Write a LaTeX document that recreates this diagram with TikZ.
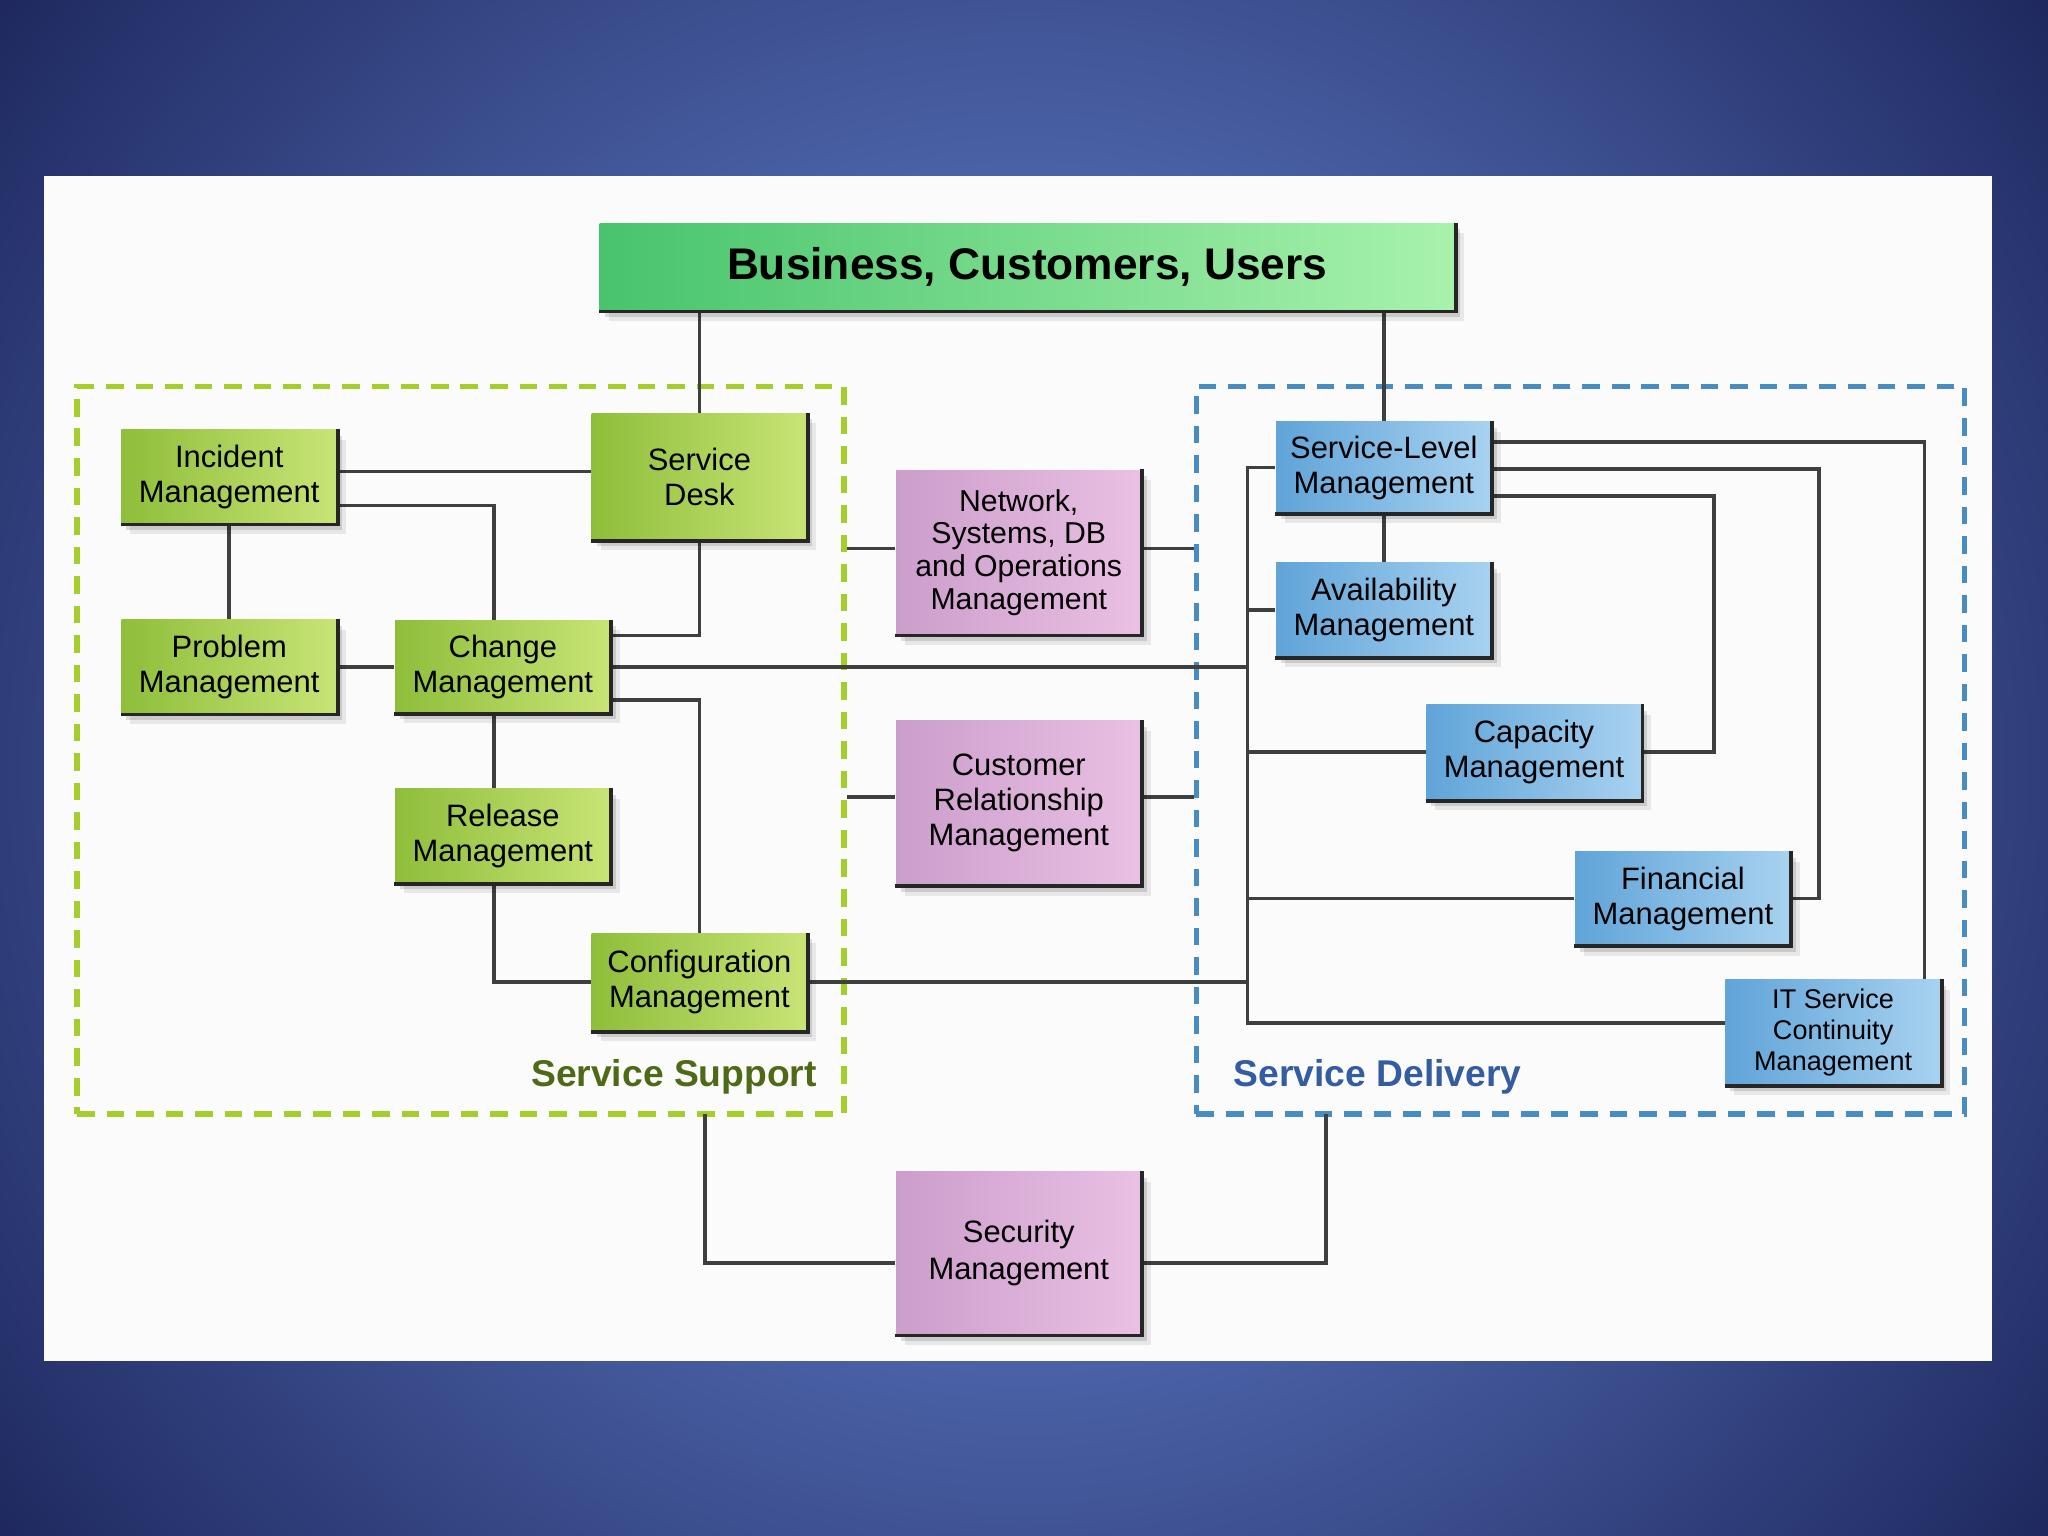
\documentclass[tikz,border=0pt]{standalone}
\usepackage{fontspec}
\setmainfont{Liberation Sans}
\usetikzlibrary{shadows,calc}
\pgfdeclarelayer{bg}
\pgfsetlayers{bg,main}
\definecolor{bgA}{RGB}{78,102,172}
\definecolor{bgB}{RGB}{16,22,72}
\definecolor{panel}{RGB}{251,251,251}
\definecolor{grL}{RGB}{142,190,58}
\definecolor{grR}{RGB}{200,228,118}
\definecolor{blL}{RGB}{96,164,216}
\definecolor{blR}{RGB}{168,210,240}
\definecolor{pkL}{RGB}{203,158,203}
\definecolor{pkR}{RGB}{234,192,228}
\definecolor{ttL}{RGB}{72,196,108}
\definecolor{ttR}{RGB}{168,242,172}
\definecolor{ssC}{RGB}{166,206,42}
\definecolor{sdC}{RGB}{72,140,196}
\definecolor{ssT}{RGB}{78,106,22}
\definecolor{sdT}{RGB}{52,92,162}
\definecolor{lineC}{RGB}{62,64,64}
\pgfdeclareradialshading{slidebg}{\pgfpoint{0bp}{0bp}}{color(0bp)=(bgA); color(9bp)=(bgA); color(25bp)=(bgB); color(50bp)=(bgB)}
\newcommand\pxu{0.0130612cm}
\begin{document}
\begin{tikzpicture}[x=0.0130612cm,y=-0.0130612cm,
  conn/.style={draw=lineC, line width=1.05pt},
  edgeln/.style={draw=black!85, line width=1.1pt},
  bx/.style={inner sep=0pt, align=center, text=black,
    font=\fontsize{8.8}{10}\selectfont,
    drop shadow={shadow xshift=0.9mm, shadow yshift=-1.0mm, fill=black, opacity=0.08},
    drop shadow={shadow xshift=0.5mm, shadow yshift=-0.6mm, fill=black, opacity=0.12}},
  gbox/.style={bx, left color=grL, right color=grR, minimum width=165*\pxu},
  bbox/.style={bx, left color=blL, right color=blR, minimum width=165*\pxu},
  pbox/.style={bx, left color=pkL, right color=pkR, minimum width=188*\pxu, minimum height=126*\pxu},
  tbox/.style={bx, left color=ttL, right color=ttR, minimum width=655*\pxu, minimum height=67*\pxu,
    font=\bfseries\fontsize{12.6}{15}\selectfont},
  area/.style={inner sep=0pt, line width=1.6pt, dash pattern=on 5pt off 3.4pt,
    minimum height=557*\pxu},
  arealabel/.style={inner sep=0pt, font=\bfseries\fontsize{10.6}{13}\selectfont}
]
\useasboundingbox (0,0) rectangle (1568,1176);

% boxes (main layer)
\node[tbox] (biz) at (786.5,204.5) {Business, Customers, Users};

\node[gbox, minimum height=72*\pxu] (inc) at (175.5,365) {Incident\\Management};
\node[gbox, minimum height=97*\pxu] (sd) at (535.5,365) {Service\\Desk};
\node[gbox, minimum height=72*\pxu] (prob) at (175.5,510.5) {Problem\\Management};
\node[gbox, minimum height=71*\pxu] (chg) at (385,510.5) {Change\\Management};
\node[gbox, minimum height=72*\pxu] (rel) at (385,640) {Release\\Management};
\node[gbox, minimum height=75*\pxu] (cfg) at (535.5,752) {Configuration\\Management};

\node[pbox, font=\fontsize{8.6}{9.3}\selectfont] (net) at (780,423) {Network,\\Systems, DB\\and Operations\\Management};
\node[pbox] (crm) at (780,615) {Customer\\Relationship\\Management};
\node[pbox, minimum height=125*\pxu, font=\fontsize{8.8}{10.4}\selectfont] (sec) at (780,959.5) {Security\\Management};

\node[bbox, minimum height=70*\pxu] (slm) at (1059.5,358) {Service-Level\\Management};
\node[bbox, minimum height=72*\pxu] (avl) at (1059.5,467) {Availability\\Management};
\node[bbox, minimum height=73*\pxu] (cap) at (1174.5,576) {Capacity\\Management};
\node[bbox, minimum height=72*\pxu] (fin) at (1288.5,688) {Financial\\Management};
\node[bbox, minimum height=81*\pxu, font=\fontsize{7.7}{8.9}\selectfont] (itscm) at (1403.5,790.5) {IT Service\\Continuity\\Management};

\foreach \n in {biz,inc,sd,prob,chg,rel,cfg,net,crm,sec,slm,avl,cap,fin,itscm}
  \draw[edgeln] (\n.south west) -- (\n.south east) -- (\n.north east);

\coordinate (busT) at (955,358);
\coordinate (busB) at (955,783);
\coordinate (ssb) at (540,853);
\coordinate (sdb) at (1015,853);

\begin{pgfonlayer}{bg}
% background
\fill[bgB] (0,0) rectangle (1568,1176);
\begin{scope}
  \clip (0,0) rectangle (1568,1176);
  \shade[shading=slidebg] (-366,-562) rectangle (1934,1738);
\end{scope}
\fill[panel] (34,135) rectangle (1525,1042);

% containers
\node[area, draw=ssC, minimum width=587*\pxu] (ss) at (352.5,574.5) {};
\node[area, draw=sdC, minimum width=588*\pxu] (sdl) at (1210,574.5) {};
\node[arealabel, anchor=base east, text=ssT] (sslab) at (626,832) {Service Support};
\node[arealabel, anchor=base west, text=sdT] (sdlab) at (944,832) {Service Delivery};

% top links
\draw[conn] (sd.north) -- (sd.north |- biz.south);
\draw[conn] (slm.north) -- (slm.north |- biz.south);
% service support
\draw[conn] ($(inc.east)+(0,-4)$) -- ($(sd.west)+(0,-4)$);
\draw[conn] ($(inc.east)+(0,22)$) -| ($(chg.north)+(-7,0)$);
\draw[conn] (inc.south) -- (prob.north);
\draw[conn] (prob.east) -- (chg.west);
\draw[conn] (sd.south) |- ($(chg.east)+(0,-24)$);
\draw[conn] (chg.east) -- (chg.east -| busT);
\draw[conn] ($(chg.east)+(0,25.5)$) -| (cfg.north);
\draw[conn] ($(chg.south)+(-7,0)$) -- ($(rel.north)+(-7,0)$);
\draw[conn] ($(rel.south)+(-7,0)$) |- (cfg.west);
\draw[conn] (cfg.east) -- (cfg.east -| busT);
% middle column
\draw[conn] ($(net.west)+(0,-3)$) coordinate (n1) -- (n1 -| ss.east);
\draw[conn] ($(net.east)+(0,-3)$) coordinate (n2) -- (n2 -| sdl.west);
\draw[conn] ($(crm.west)+(0,-5)$) coordinate (c1) -- (c1 -| ss.east);
\draw[conn] ($(crm.east)+(0,-5)$) coordinate (c2) -- (c2 -| sdl.west);
\draw[conn] ($(sec.west)+(0,7.5)$) -| (ssb);
\draw[conn] ($(sec.east)+(0,7.5)$) -| (sdb);
% service delivery bus
\draw[conn] (slm.west) -- (busT) -- (busB) -- (busB -| itscm.west);
\draw[conn] (avl.west) -- (avl.west -| busT);
\draw[conn] (cap.west) -- (cap.west -| busT);
\draw[conn] (fin.west) -- (fin.west -| busT);
\draw[conn] (slm.south) -- (avl.north);
\draw[conn] ($(slm.east)+(0,-19.5)$) -| ($(itscm.north east)+(-13,0)$);
\draw[conn] ($(slm.east)+(0,1)$) -| ($(fin.east)+(21,0)$) -- (fin.east);
\draw[conn] ($(slm.east)+(0,22)$) -| ($(cap.east)+(55,0)$) -- (cap.east);
\end{pgfonlayer}
\end{tikzpicture}
\end{document}
